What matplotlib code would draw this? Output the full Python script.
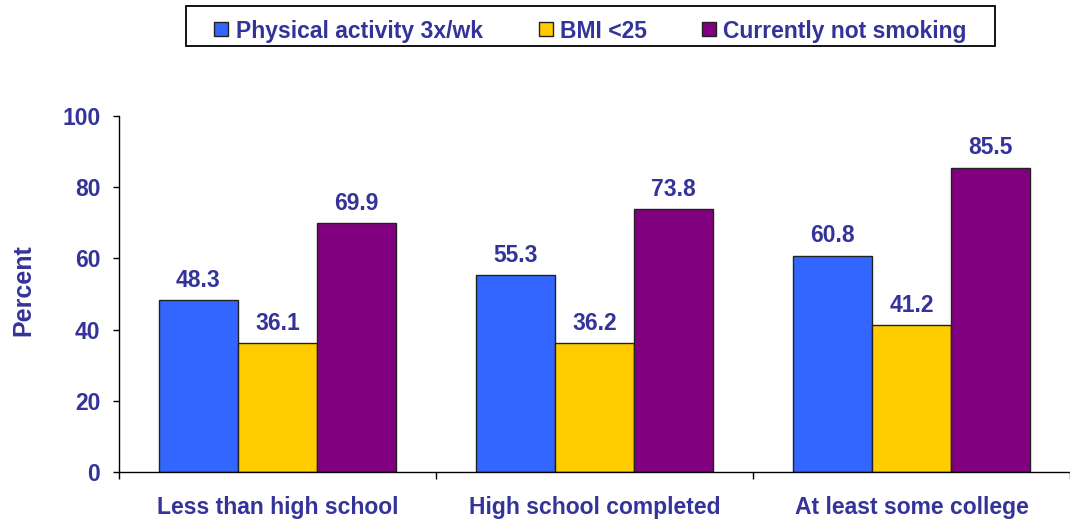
import matplotlib
matplotlib.use("Agg")
import matplotlib.pyplot as plt
import numpy as np
from matplotlib.patches import Rectangle

categories = ["Less than high school", "High school completed", "At least some college"]
series_names = ["Physical activity 3x/wk", "BMI <25", "Currently not smoking"]
physical_activity = [48.3, 55.3, 60.8]
bmi_under_25 = [36.1, 36.2, 41.2]
not_smoking = [69.9, 73.8, 85.5]
y_ticks = [0, 20, 40, 60, 80, 100]

colors = ["#3366FF", "#FFCC00", "#800080"]
text_color = "#333399"
edge = "#222222"

plt.rcParams["font.family"] = ["Liberation Sans", "DejaVu Sans"]
plt.rcParams["font.weight"] = "bold"

W, H = 1070, 520
fig = plt.figure(figsize=(W / 100, H / 100), dpi=100)
ax = fig.add_axes([119 / W, (H - 472) / H, (W - 119) / W, (472 - 116) / H])

x = np.arange(len(categories))
width = 0.25
values = [physical_activity, bmi_under_25, not_smoking]
for i, (vals, col) in enumerate(zip(values, colors)):
    bars = ax.bar(x + (i - 1) * width, vals, width, color=col,
                  edgecolor=edge, linewidth=1.0, zorder=2)
    for b, v in zip(bars, vals):
        ax.annotate(f"{v:.1f}", (b.get_x() + b.get_width() / 2, v),
                    xytext=(0, 6), textcoords="offset points",
                    ha="center", va="bottom", fontsize=16.5,
                    fontweight="bold", color=text_color)

ax.set_ylim(0, 100)
ax.set_xlim(-0.5, 2.5 - 6 / 319)
ax.set_yticks(y_ticks)
ax.set_yticklabels([str(t) for t in y_ticks], fontsize=16.5, fontweight="bold", color=text_color)
ax.tick_params(axis="y", direction="out", length=4.5, width=1, pad=9, color="black")

ax.set_xticks(x)
ax.set_xticklabels(categories, fontsize=16.5, fontweight="bold", color=text_color)
ax.tick_params(axis="x", which="major", length=0, pad=17)
ax.set_xticks(np.arange(-0.5, 3.0, 1.0), minor=True)
ax.tick_params(axis="x", which="minor", direction="out", length=5, width=1, color="black")

ax.set_ylabel("Percent", fontsize=18, fontweight="bold", color=text_color, labelpad=19.5)
ax.yaxis.label.set_y(0.511)

for s in ["top", "right"]:
    ax.spines[s].set_visible(False)
ax.spines["left"].set_linewidth(1)
ax.spines["bottom"].set_linewidth(1)

# Legend box laid out in pixel units across the top of the figure
def fx(px):
    return px / W

def fy(py):
    return 1 - py / H

fig.patches.append(Rectangle((fx(186), fy(45.5)), fx(995) - fx(186), fy(6.5) - fy(45.5),
                             transform=fig.transFigure, facecolor="white",
                             edgecolor="black", linewidth=1.3))
square_x = [214, 539, 702]
text_x = [236, 560, 723]
for sx, tx, col, name in zip(square_x, text_x, colors, series_names):
    fig.patches.append(Rectangle((fx(sx), fy(36)), fx(14), 14 / H,
                                 transform=fig.transFigure, facecolor=col,
                                 edgecolor=edge, linewidth=1.0))
    fig.text(fx(tx), fy(29), name, ha="left", va="center_baseline",
             fontsize=16.5, fontweight="bold", color=text_color)

fig.savefig("out.png", dpi=100, facecolor="white")
